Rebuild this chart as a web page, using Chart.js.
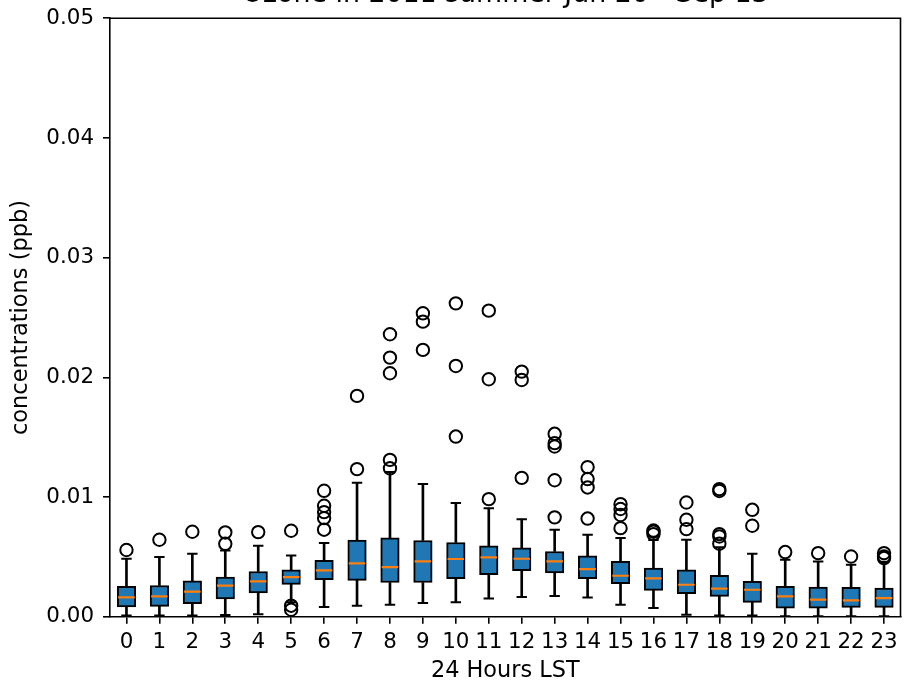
<!DOCTYPE html>
<html>
<head>
<meta charset="utf-8">
<title>Ozone in 2011 summer</title>
<script src="https://cdn.jsdelivr.net/npm/chart.js@4/dist/chart.umd.min.js"></script>
<style>
  html, body { margin: 0; padding: 0; background: #fff; overflow: hidden; }
  #wrap { position: relative; width: 909px; height: 687px; overflow: hidden; }
  #chart { position: absolute; left: 0; top: -40px; }
</style>
</head>
<body>
<div id="wrap"><canvas id="chart" width="911" height="727"></canvas></div>
<script>
// hour of day (tick labels)
var hours = ['0','1','2','3','4','5','6','7','8','9','10','11','12','13','14','15','16','17','18','19','20','21','22','23'];

// box plot statistics per hour (ppb)
var q1 = [0.00081, 0.00086, 0.00109, 0.00148, 0.00198, 0.0027, 0.00309, 0.00303, 0.00286, 0.00286, 0.00317, 0.00351,
          0.00384, 0.00365, 0.00317, 0.00275, 0.0022, 0.00192, 0.0017, 0.0012, 0.00072, 0.00072, 0.00078, 0.00078];
var medians = [0.00161, 0.0017, 0.00209, 0.00259, 0.00295, 0.00331, 0.00387, 0.00445, 0.00415, 0.00462, 0.00482, 0.00495,
               0.00484, 0.00462, 0.00398, 0.00342, 0.0032, 0.00267, 0.00234, 0.00225, 0.0017, 0.00142, 0.00136, 0.00156];
var q3 = [0.00253, 0.00261, 0.003, 0.00331, 0.00378, 0.00392, 0.0047, 0.0064, 0.0066, 0.00637, 0.0062, 0.00593,
          0.00576, 0.00545, 0.00509, 0.00462, 0.00406, 0.00392, 0.00345, 0.00295, 0.00253, 0.00248, 0.00245, 0.0024];
var whiskerLow = [0.0001, 0.0001, 0.0001, 0.00014, 0.0002, 0.0012, 0.00081, 0.00092, 0.001, 0.00114, 0.0012, 0.00153,
                  0.00164, 0.00173, 0.00161, 0.001, 0.00072, 0.00017, 0.0001, 0.0001, 0.00003, 0.00003, 0.00003, 0.00003];
var whiskerHigh = [0.00484, 0.00498, 0.00526, 0.00553, 0.00593, 0.00512, 0.00615, 0.0112, 0.0121, 0.01108, 0.00949, 0.00907,
                   0.00815, 0.00726, 0.00684, 0.00657, 0.0064, 0.00643, 0.0058, 0.00526, 0.00476, 0.00462, 0.00434, 0.0046];
var outliers = [
  [0.00557], [0.00643], [0.0071], [0.00704, 0.00609], [0.00707], [0.00718, 0.00092, 0.00058],
  [0.01052, 0.00927, 0.00874, 0.00824, 0.00727], [0.01845, 0.01233], [0.0236, 0.02165, 0.02034, 0.0131, 0.0124],
  [0.02535, 0.02465, 0.02229], [0.02618, 0.02095, 0.01505], [0.02557, 0.01984, 0.00982], [0.02048, 0.01978, 0.0116],
  [0.01528, 0.0145, 0.01422, 0.0114, 0.0083], [0.0125, 0.0115, 0.0108, 0.0082], [0.0094, 0.009, 0.0085, 0.0074],
  [0.0072, 0.0071, 0.0069], [0.00954, 0.0081, 0.00732], [0.01066, 0.0105, 0.0069, 0.0067, 0.0061], [0.00893, 0.0076],
  [0.0054], [0.00531], [0.00503], [0.00531, 0.00503, 0.0049]
];

var BLUE = '#1f77b4';
var ORANGE = '#ff7f0e';

function pairs(lo, hi) {
  var out = [];
  for (var i = 0; i < lo.length; i++) out.push([lo[i], hi[i]]);
  return out;
}

function points(values) {
  var out = [];
  for (var i = 0; i < values.length; i++) out.push({ x: hours[i], y: values[i] });
  return out;
}

function outlierPoints() {
  var out = [];
  for (var i = 0; i < outliers.length; i++) {
    for (var j = 0; j < outliers[i].length; j++) {
      out.push({ x: hours[i], y: outliers[i][j] });
    }
  }
  return out;
}

// matplotlib-like frame: top and right spines
var frame = {
  id: 'frame',
  afterDraw: function(chart) {
    var a = chart.chartArea, ctx = chart.ctx;
    ctx.save();
    ctx.strokeStyle = '#000';
    ctx.lineWidth = 1.6;
    ctx.beginPath();
    ctx.moveTo(a.left, a.top);
    ctx.lineTo(a.right, a.top);
    ctx.lineTo(a.right, a.bottom);
    ctx.stroke();
    ctx.restore();
  }
};

Chart.defaults.font.family = '"DejaVu Sans", sans-serif';
Chart.defaults.font.size = 21.4;
Chart.defaults.color = '#000';

var whiskerStyle = { type: 'bar', grouped: false, barThickness: 2, backgroundColor: '#000', borderWidth: 0, order: 6 };

new Chart(document.getElementById('chart'), {
  type: 'bar',
  data: {
    labels: hours,
    datasets: [
      Object.assign({ data: pairs(whiskerLow, q1) }, whiskerStyle),
      Object.assign({ data: pairs(q3, whiskerHigh) }, whiskerStyle),
      {
        type: 'bar',
        data: pairs(q1, q3),
        grouped: false,
        barThickness: 18.5,
        backgroundColor: BLUE,
        borderColor: '#000',
        borderWidth: 2,
        borderSkipped: false,
        order: 5
      },
      {
        type: 'scatter',
        data: points(medians),
        pointStyle: 'line',
        radius: 8.3,
        borderColor: ORANGE,
        borderWidth: 2.2,
        order: 4
      },
      {
        type: 'scatter',
        data: points(whiskerLow).concat(points(whiskerHigh)),
        pointStyle: 'line',
        radius: 5.2,
        borderColor: '#000',
        borderWidth: 2,
        order: 3
      },
      {
        type: 'scatter',
        data: outlierPoints(),
        pointStyle: 'circle',
        radius: 6.2,
        backgroundColor: 'rgba(0,0,0,0)',
        borderColor: '#000',
        borderWidth: 2,
        order: 2
      }
    ]
  },
  options: {
    responsive: false,
    animation: false,
    events: [],
    layout: { padding: { top: 19.2, left: 0, right: 1.3, bottom: 0 } },
    plugins: {
      legend: { display: false },
      tooltip: { enabled: false },
      title: {
        display: true,
        fullSize: false,
        text: 'Ozone in 2011 summer Jun 20 - Sep 13',
        color: '#000',
        font: { size: 26.8, weight: 'normal' },
        padding: { top: 0, bottom: 6.9 }
      }
    },
    scales: {
      x: {
        type: 'category',
        offset: true,
        grid: { display: true, drawOnChartArea: false, offset: false, color: '#000', lineWidth: 1.6, tickLength: 7 },
        border: { display: true, color: '#000', width: 1.6 },
        ticks: { padding: 6.1, maxRotation: 0, autoSkip: false },
        title: { display: true, text: '24 Hours LST', font: { size: 22.4 }, padding: { top: 0, bottom: 2.4 } },
        afterFit: function(scale) { scale.height = 70.3; }
      },
      y: {
        min: 0,
        max: 0.05,
        grid: { display: true, drawOnChartArea: false, color: '#000', lineWidth: 1.6, tickLength: 7 },
        border: { display: true, color: '#000', width: 1.6 },
        ticks: {
          stepSize: 0.01,
          padding: 9,
          callback: function(v) { return v.toFixed(2); }
        },
        title: { display: true, text: 'concentrations (ppb)', font: { size: 22.5 }, padding: { top: 7.5, bottom: 0 } },
        afterFit: function(scale) { scale.width = 110; }
      }
    }
  },
  plugins: [frame]
});
</script>
</body>
</html>
